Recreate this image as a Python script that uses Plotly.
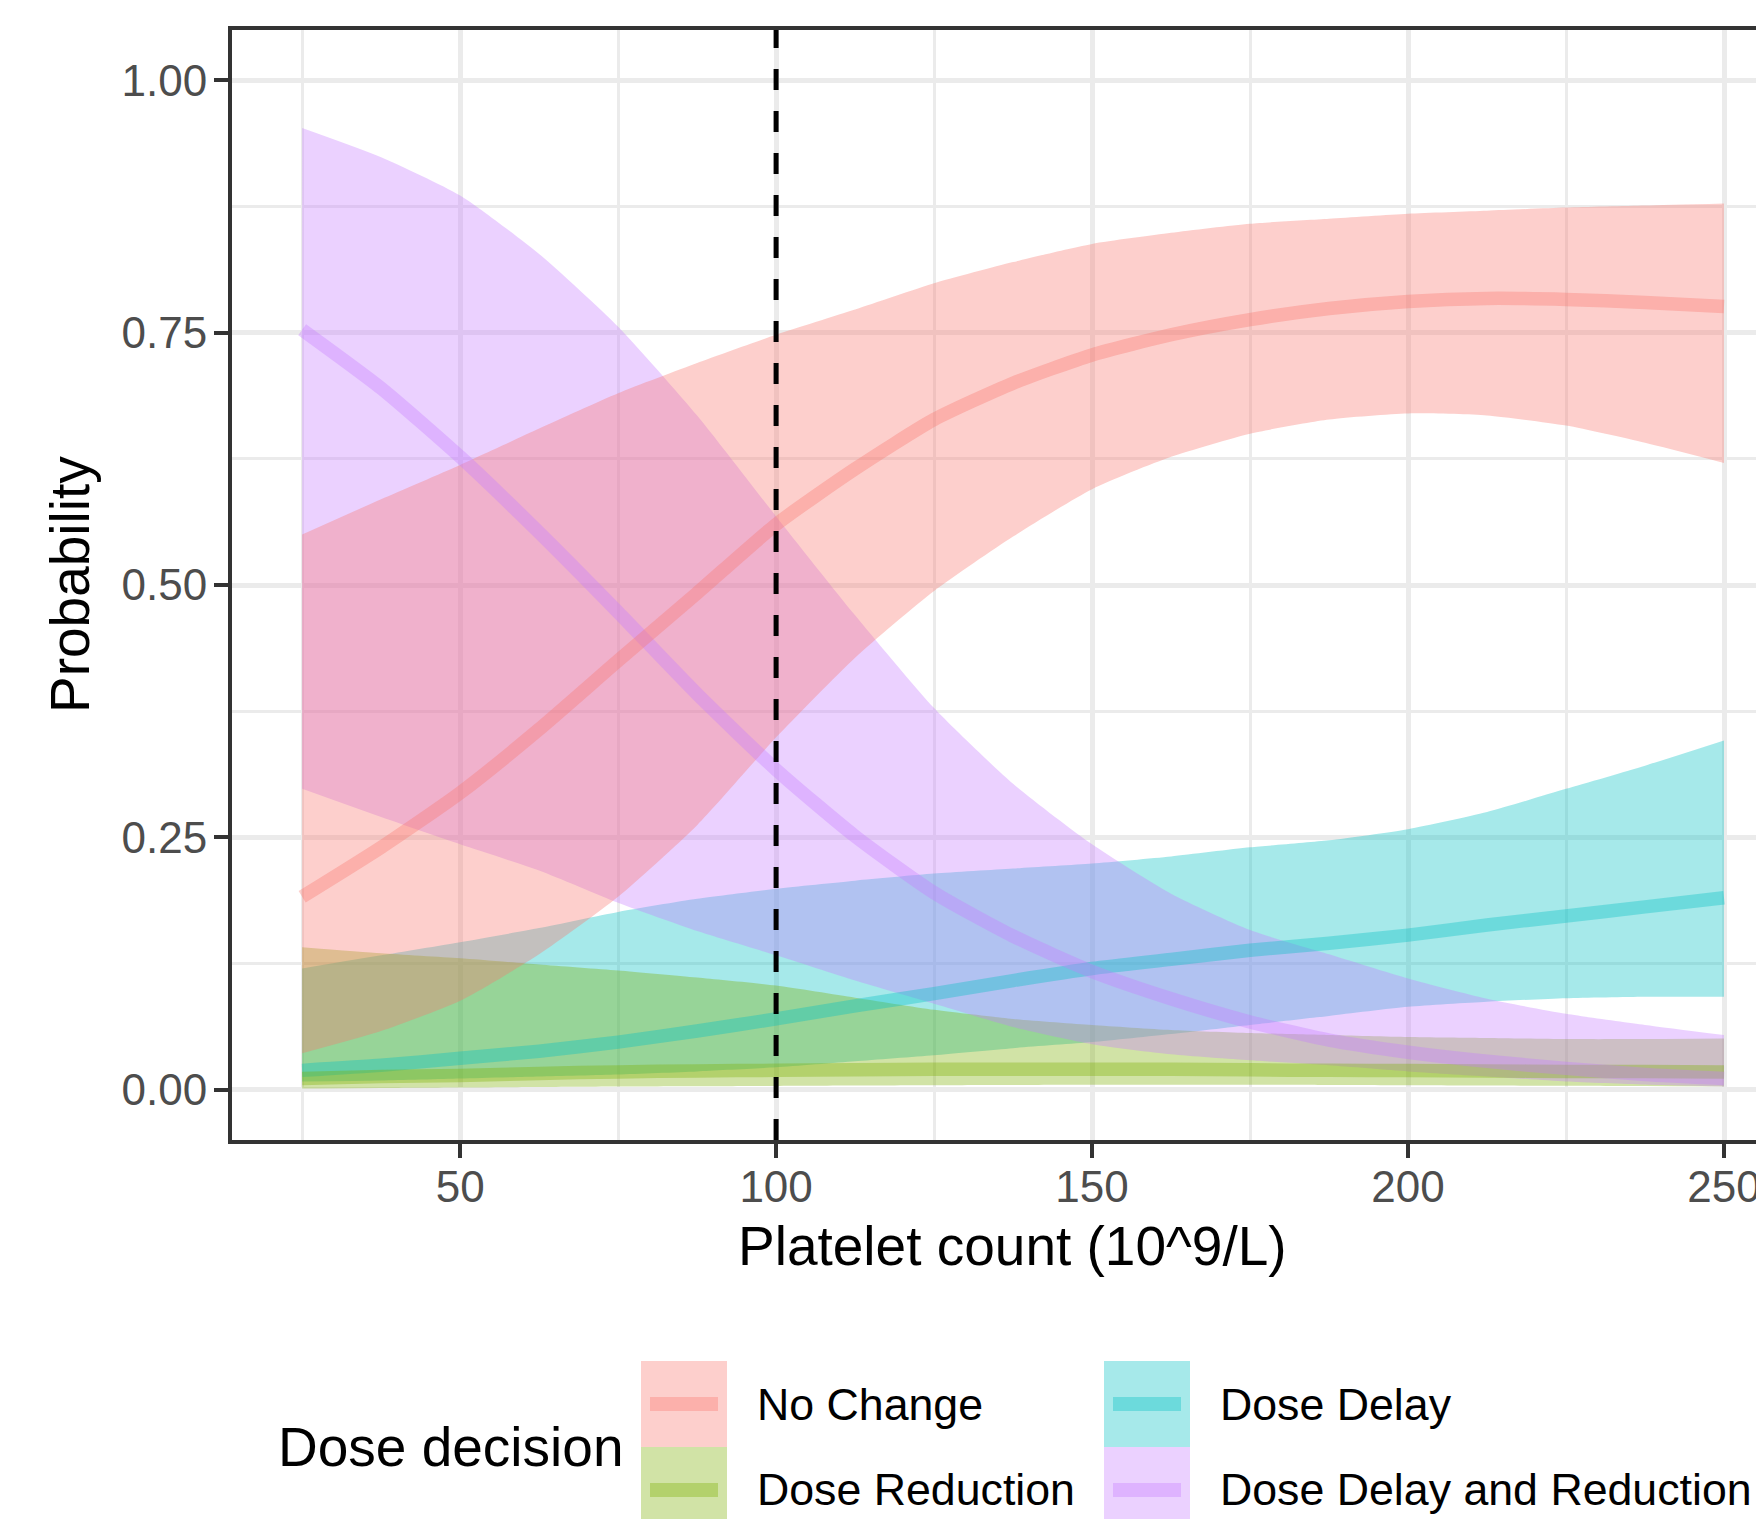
import plotly.graph_objects as go

# ---- data ----
platelets = [25, 37.5, 50, 62.5, 75, 87.5, 100, 112.5, 125, 137.5, 150,
             162.5, 175, 187.5, 200, 212.5, 225, 237.5, 250]

no_change_mean = [0.191, 0.240, 0.294, 0.357, 0.425, 0.492, 0.560, 0.615, 0.664, 0.700,
                  0.728, 0.748, 0.763, 0.774, 0.781, 0.784, 0.783, 0.780, 0.776]
no_change_lo = [0.036, 0.058, 0.088, 0.134, 0.191, 0.262, 0.349, 0.428, 0.494, 0.548,
                0.595, 0.627, 0.650, 0.664, 0.670, 0.668, 0.658, 0.641, 0.621]
no_change_hi = [0.550, 0.585, 0.619, 0.655, 0.690, 0.720, 0.748, 0.773, 0.799, 0.820,
                0.838, 0.849, 0.858, 0.863, 0.868, 0.871, 0.874, 0.876, 0.878]

reduction_mean = [0.011, 0.013, 0.014, 0.016, 0.0175, 0.0185, 0.019, 0.0195, 0.020, 0.020,
                  0.020, 0.020, 0.0195, 0.019, 0.0188, 0.0185, 0.018, 0.0178, 0.0175]
reduction_lo = [0.001, 0.0015, 0.002, 0.0025, 0.003, 0.0033, 0.0036, 0.004, 0.0043, 0.0045,
                0.0047, 0.0048, 0.0047, 0.0045, 0.0043, 0.004, 0.0037, 0.0034, 0.003]
reduction_hi = [0.141, 0.135, 0.130, 0.124, 0.118, 0.111, 0.103, 0.091, 0.079, 0.070,
                0.064, 0.059, 0.056, 0.054, 0.052, 0.051, 0.050, 0.050, 0.0505]

delay_mean = [0.019, 0.024, 0.031, 0.038, 0.047, 0.058, 0.070, 0.083, 0.095, 0.108,
              0.120, 0.129, 0.138, 0.145, 0.153, 0.163, 0.172, 0.181, 0.190]
delay_lo = [0.008, 0.009, 0.011, 0.013, 0.015, 0.018, 0.022, 0.028, 0.034, 0.041,
            0.047, 0.055, 0.064, 0.073, 0.082, 0.087, 0.0905, 0.092, 0.092]
delay_hi = [0.120, 0.133, 0.146, 0.160, 0.176, 0.189, 0.199, 0.207, 0.214, 0.219,
            0.224, 0.231, 0.240, 0.247, 0.258, 0.275, 0.298, 0.321, 0.346]

delay_red_mean = [0.753, 0.695, 0.627, 0.552, 0.473, 0.392, 0.317, 0.251, 0.195, 0.152,
                  0.117, 0.090, 0.067, 0.049, 0.037, 0.028, 0.021, 0.015, 0.011]
delay_red_lo = [0.298, 0.270, 0.243, 0.217, 0.185, 0.157, 0.133, 0.108, 0.085, 0.062,
                0.045, 0.035, 0.029, 0.024, 0.018, 0.013, 0.008, 0.005, 0.003]
delay_red_hi = [0.953, 0.924, 0.886, 0.828, 0.756, 0.668, 0.568, 0.470, 0.378, 0.303,
                0.243, 0.194, 0.158, 0.134, 0.110, 0.090, 0.075, 0.064, 0.054]

legend_labels = ["No Change", "Dose Reduction", "Dose Delay", "Dose Delay and Reduction"]
x_ticks = [50, 100, 150, 200, 250]
x_minor = [25, 75, 125, 175, 225]
y_ticks = [0, 0.25, 0.5, 0.75, 1.0]
y_ticktext = ["0.00", "0.25", "0.50", "0.75", "1.00"]
y_minor = [0.125, 0.375, 0.625, 0.875]
threshold = 100

# ---- styling ----
RGB = {
    "No Change": (248, 118, 109),
    "Dose Reduction": (124, 174, 0),
    "Dose Delay": (0, 191, 196),
    "Dose Delay and Reduction": (199, 124, 255),
}
ALPHA = 0.35


def rgba(name, a=ALPHA):
    r, g, b = RGB[name]
    return f"rgba({r},{g},{b},{a})"


series = {
    "No Change": (no_change_mean, no_change_lo, no_change_hi),
    "Dose Reduction": (reduction_mean, reduction_lo, reduction_hi),
    "Dose Delay": (delay_mean, delay_lo, delay_hi),
    "Dose Delay and Reduction": (delay_red_mean, delay_red_lo, delay_red_hi),
}
draw_order = ["Dose Delay", "Dose Reduction", "Dose Delay and Reduction", "No Change"]

FONT = "Liberation Sans, Arial, Helvetica, sans-serif"
OFF = 8                      # default page body margin
W, H = 1764 - OFF, 1519 - OFF
L, R, T, B = 232 - OFF, 0, 30 - OFF, 379
PW, PH = W - L - R, H - T - B

fig = go.Figure()
SPL = dict(shape="spline", smoothing=0.6)
for name in draw_order:
    mean, lo, hi = series[name]
    fig.add_trace(go.Scatter(x=platelets, y=lo, mode="lines", line=dict(width=0, **SPL),
                             showlegend=False, hoverinfo="skip"))
    fig.add_trace(go.Scatter(x=platelets, y=hi, mode="lines", line=dict(width=0, **SPL),
                             fill="tonexty", fillcolor=rgba(name), showlegend=False, hoverinfo="skip"))
for name in draw_order:
    mean, lo, hi = series[name]
    fig.add_trace(go.Scatter(x=platelets, y=mean, mode="lines", name=name,
                             line=dict(color=rgba(name), width=13.5, **SPL),
                             showlegend=False))


# helpers converting screen pixels (page coords) to paper coords
def px(xs):
    return (xs - OFF - L) / PW


def py(ys):
    return (H - B - (ys - OFF)) / PH


shapes = [dict(type="line", xref="x", yref="paper", x0=threshold, x1=threshold, y0=0, y1=1,
               line=dict(color="black", width=5, dash="21px,21px"), layer="above")]
annotations = []

# manual legend (ggplot-style keys)
key_cols = [641, 1104]
key_rows = [1361, 1447]
key_w, key_h = 86, 86
text_x = [755, 1218]
layout_pos = {
    "No Change": (0, 0), "Dose Reduction": (0, 1),
    "Dose Delay": (1, 0), "Dose Delay and Reduction": (1, 1),
}
for name in legend_labels:
    c, r = layout_pos[name]
    x0, y0 = key_cols[c], key_rows[r]
    shapes.append(dict(type="rect", xref="paper", yref="paper",
                       x0=px(x0), x1=px(x0 + key_w), y0=py(y0), y1=py(y0 + key_h),
                       fillcolor=rgba(name), line=dict(width=0), layer="above"))
    yc = y0 + key_h / 2
    shapes.append(dict(type="line", xref="paper", yref="paper",
                       x0=px(x0 + 9), x1=px(x0 + key_w - 9), y0=py(yc), y1=py(yc),
                       line=dict(color=rgba(name), width=14), layer="above"))
    annotations.append(dict(text=name, xref="paper", yref="paper", x=px(text_x[c]), y=py(yc),
                            xanchor="left", yanchor="middle", showarrow=False,
                            font=dict(family=FONT, size=44.7, color="black")))

annotations.append(dict(text="Dose decision", xref="paper", yref="paper", x=px(276), y=py(1447),
                        xanchor="left", yanchor="middle", showarrow=False,
                        font=dict(family=FONT, size=55, color="black")))
annotations.append(dict(text="Platelet count (10^9/L)", xref="paper", yref="paper",
                        x=px(1012.5), y=py(1246), xanchor="center", yanchor="middle", showarrow=False,
                        font=dict(family=FONT, size=55, color="black")))
annotations.append(dict(text="Probability", xref="paper", yref="paper", x=px(70), y=0.5,
                        xanchor="center", yanchor="middle", textangle=-90, showarrow=False,
                        font=dict(family=FONT, size=55, color="black")))

axis_common = dict(
    showline=True, linecolor="#333333", linewidth=4,
    ticks="outside", ticklen=14, tickwidth=4, tickcolor="#333333",
    tickfont=dict(family=FONT, size=44, color="#4D4D4D"),
    showgrid=True, gridcolor="#EBEBEB", gridwidth=5, zeroline=False, automargin=False,
)

fig.update_layout(
    width=W, height=H,
    margin=dict(l=L, r=R, t=T, b=B, pad=0),
    paper_bgcolor="white", plot_bgcolor="white",
    showlegend=False,
    shapes=shapes, annotations=annotations,
    xaxis=dict(range=[13.9, 256.33], tickmode="array", tickvals=x_ticks,
               ticktext=[str(v) for v in x_ticks], mirror=True, ticklabelstandoff=-9,
               minor=dict(tickvals=x_minor, showgrid=True, gridcolor="#EBEBEB", gridwidth=2.5, ticks=""),
               **axis_common),
    yaxis=dict(range=[-0.05, 1.05], tickmode="array", tickvals=y_ticks, ticktext=y_ticktext,
               mirror=False, ticklabelstandoff=-2,
               minor=dict(tickvals=y_minor, showgrid=True, gridcolor="#EBEBEB", gridwidth=2.5, ticks=""),
               **axis_common),
)

fig.write_html("out.html")
